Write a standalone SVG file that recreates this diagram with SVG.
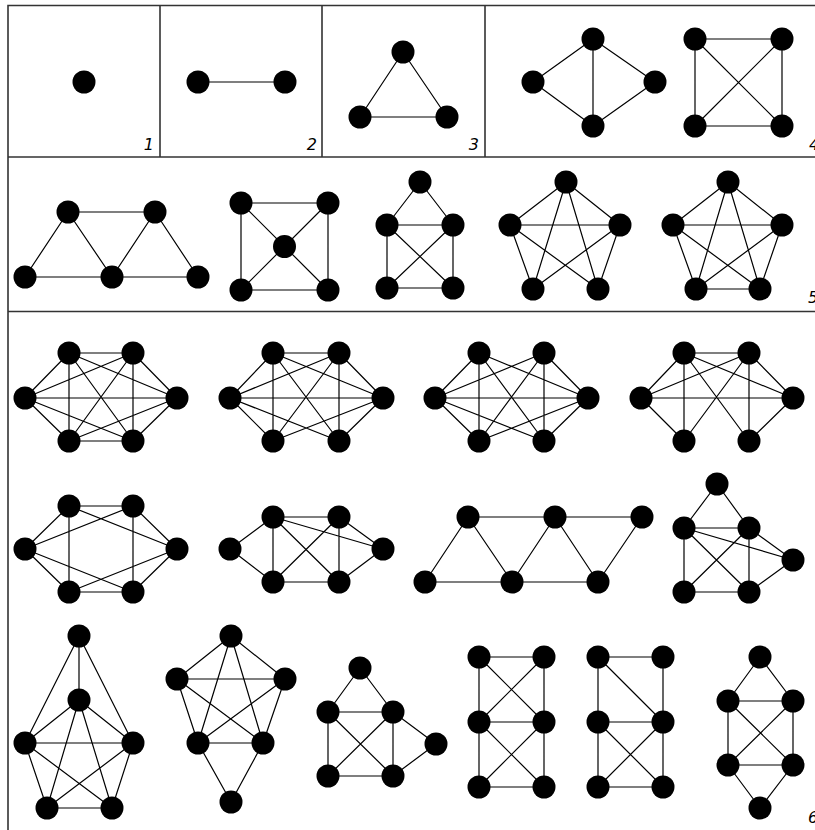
<svg xmlns="http://www.w3.org/2000/svg" width="815" height="830" viewBox="0 0 815 830">
<style>
.frame{fill:none;stroke:#333;stroke-width:1.6}
.e{fill:none;stroke:#000;stroke-width:1.2;stroke-linejoin:round}
circle{fill:#000}
text{font-family:"DejaVu Sans",sans-serif;font-style:oblique;font-size:16px;fill:#000}
</style>
<rect width="815" height="830" fill="#fff"/>
<g id="frame">
<path class="frame" d="M8 830V5.5H815M8 157H815M8 311.5H815M160 5.5V157M322 5.5V157M485 5.5V157"/>
<text x="154" y="150" text-anchor="end">1</text>
<text x="317" y="150" text-anchor="end">2</text>
<text x="479" y="150" text-anchor="end">3</text>
<text x="809" y="150">4</text>
<text x="808" y="303">5</text>
<text x="808" y="823">6</text>
</g>
<g id="connectors">
<path class="e" d="M198 82H285"/>
<path class="e" d="M403 52L360 117L447 117Z"/>
<path class="e" d="M593 39L533 82L593 126L655 82ZM593 39V126"/>
<path class="e" d="M695 39H782V126H695ZM695 39L782 126M782 39L695 126"/>
<path class="e" d="M68 212H155M25 277H198M25 277L68 212L112 277L155 212L198 277"/>
<path class="e" d="M241 203H328V290H241ZM241 203L328 290M328 203L241 290"/>
<path class="e" d="M420 182L387 225L387 288L453 288L453 225ZM387 225H453M387 225L453 288M453 225L387 288"/>
<path class="e" d="M566 182L510 225L533 289M566 182L620 225L598 289M566 182L533 289M566 182L598 289M510 225H620M510 225L598 289M620 225L533 289"/>
<path class="e" d="M728 182L673 225L696 289L760 289L782 225ZM728 182L696 289M728 182L760 289M673 225H782M673 225L760 289M782 225L696 289"/>
<path class="e" d="M69 353L133 353L177 398L133 441L69 441L25 398ZM69 353L177 398M69 353V441M69 353L133 441M133 353L25 398M133 353L69 441M133 353V441M25 398H177M25 398L133 441M177 398L69 441"/>
<path class="e" d="M273 441L230 398L273 353L339 353L383 398L339 441M273 353L383 398M273 353V441M273 353L339 441M339 353L230 398M339 353L273 441M339 353V441M230 398H383M230 398L339 441M383 398L273 441"/>
<path class="e" d="M479 353L435 398L479 441M544 353L588 398L544 441M479 353L588 398M479 353V441M479 353L544 441M544 353L435 398M544 353L479 441M544 353V441M435 398H588M435 398L544 441M588 398L479 441"/>
<path class="e" d="M684 441L641 398L684 353L749 353L793 398L749 441M684 353L793 398M684 353V441M684 353L749 441M749 353L641 398M749 353L684 441M749 353V441M641 398H793"/>
<path class="e" d="M69 506L133 506L177 549L133 592L69 592L25 549ZM69 506V592M133 506V592M25 549L133 506M25 549L133 592M177 549L69 506M177 549L69 592"/>
<path class="e" d="M273 517L339 517L383 549L339 582L273 582L230 549ZM273 517V582M339 517V582M273 517L383 549M273 517L339 582M339 517L273 582"/>
<path class="e" d="M468 517H642M425 582H598M425 582L468 517L512 582L555 517L598 582L642 517"/>
<path class="e" d="M684 528L717 484L749 528ZM684 528V592H749V528M684 528L749 592M749 528L684 592M684 528L793 560L749 528M749 592L793 560"/>
<path class="e" d="M79 636V700M79 636L25 743M79 636L133 743M79 700L25 743L47 808L112 808L133 743ZM25 743H133M79 700L47 808M79 700L112 808M25 743L112 808M133 743L47 808"/>
<path class="e" d="M231 636L177 679L198 743L263 743L285 679ZM177 679H285M231 636L198 743M231 636L263 743M177 679L263 743M285 679L198 743M198 743L231 802L263 743"/>
<path class="e" d="M328 712L360 668L393 712ZM328 712V776H393V712M328 712L393 776M393 712L328 776M393 712L436 744L393 776"/>
<path class="e" d="M479 657H544V787H479ZM479 722H544M479 657L544 722M544 657L479 722M479 722L544 787M544 722L479 787"/>
<path class="e" d="M598 657H663V787H598ZM598 722H663M598 657L663 722M598 722L663 787M663 722L598 787"/>
<path class="e" d="M728 701L760 657L793 701ZM728 701V765M793 701V765M728 765H793M728 701L793 765M793 701L728 765M728 765L760 808L793 765"/>
</g>
<g id="graph-1"><circle id="n1-1" cx="84" cy="82" r="11.5"/></g>
<g id="graph-2"><circle id="n2-1" cx="198" cy="82" r="11.5"/><circle id="n2-2" cx="285" cy="82" r="11.5"/></g>
<g id="graph-3"><circle id="n3-1" cx="403" cy="52" r="11.5"/><circle id="n3-2" cx="360" cy="117" r="11.5"/><circle id="n3-3" cx="447" cy="117" r="11.5"/></g>
<g id="graph-4a"><circle id="n4a-1" cx="593" cy="39" r="11.5"/><circle id="n4a-2" cx="533" cy="82" r="11.5"/><circle id="n4a-3" cx="655" cy="82" r="11.5"/><circle id="n4a-4" cx="593" cy="126" r="11.5"/></g>
<g id="graph-4b"><circle id="n4b-1" cx="695" cy="39" r="11.5"/><circle id="n4b-2" cx="782" cy="39" r="11.5"/><circle id="n4b-3" cx="695" cy="126" r="11.5"/><circle id="n4b-4" cx="782" cy="126" r="11.5"/></g>
<g id="graph-5a"><circle id="n5a-1" cx="68" cy="212" r="11.5"/><circle id="n5a-2" cx="155" cy="212" r="11.5"/><circle id="n5a-3" cx="25" cy="277" r="11.5"/><circle id="n5a-4" cx="112" cy="277" r="11.5"/><circle id="n5a-5" cx="198" cy="277" r="11.5"/></g>
<g id="graph-5b"><circle id="n5b-1" cx="241" cy="203" r="11.5"/><circle id="n5b-2" cx="328" cy="203" r="11.5"/><circle id="n5b-3" cx="284.5" cy="246.5" r="11.5"/><circle id="n5b-4" cx="241" cy="290" r="11.5"/><circle id="n5b-5" cx="328" cy="290" r="11.5"/></g>
<g id="graph-5c"><circle id="n5c-1" cx="420" cy="182" r="11.5"/><circle id="n5c-2" cx="387" cy="225" r="11.5"/><circle id="n5c-3" cx="453" cy="225" r="11.5"/><circle id="n5c-4" cx="387" cy="288" r="11.5"/><circle id="n5c-5" cx="453" cy="288" r="11.5"/></g>
<g id="graph-5d"><circle id="n5d-1" cx="566" cy="182" r="11.5"/><circle id="n5d-2" cx="510" cy="225" r="11.5"/><circle id="n5d-3" cx="620" cy="225" r="11.5"/><circle id="n5d-4" cx="533" cy="289" r="11.5"/><circle id="n5d-5" cx="598" cy="289" r="11.5"/></g>
<g id="graph-5e"><circle id="n5e-1" cx="728" cy="182" r="11.5"/><circle id="n5e-2" cx="673" cy="225" r="11.5"/><circle id="n5e-3" cx="782" cy="225" r="11.5"/><circle id="n5e-4" cx="696" cy="289" r="11.5"/><circle id="n5e-5" cx="760" cy="289" r="11.5"/></g>
<g id="graph-6a"><circle id="n6a-1" cx="69" cy="353" r="11.5"/><circle id="n6a-2" cx="133" cy="353" r="11.5"/><circle id="n6a-3" cx="25" cy="398" r="11.5"/><circle id="n6a-4" cx="177" cy="398" r="11.5"/><circle id="n6a-5" cx="69" cy="441" r="11.5"/><circle id="n6a-6" cx="133" cy="441" r="11.5"/></g>
<g id="graph-6b"><circle id="n6b-1" cx="273" cy="353" r="11.5"/><circle id="n6b-2" cx="339" cy="353" r="11.5"/><circle id="n6b-3" cx="230" cy="398" r="11.5"/><circle id="n6b-4" cx="383" cy="398" r="11.5"/><circle id="n6b-5" cx="273" cy="441" r="11.5"/><circle id="n6b-6" cx="339" cy="441" r="11.5"/></g>
<g id="graph-6c"><circle id="n6c-1" cx="479" cy="353" r="11.5"/><circle id="n6c-2" cx="544" cy="353" r="11.5"/><circle id="n6c-3" cx="435" cy="398" r="11.5"/><circle id="n6c-4" cx="588" cy="398" r="11.5"/><circle id="n6c-5" cx="479" cy="441" r="11.5"/><circle id="n6c-6" cx="544" cy="441" r="11.5"/></g>
<g id="graph-6d"><circle id="n6d-1" cx="684" cy="353" r="11.5"/><circle id="n6d-2" cx="749" cy="353" r="11.5"/><circle id="n6d-3" cx="641" cy="398" r="11.5"/><circle id="n6d-4" cx="793" cy="398" r="11.5"/><circle id="n6d-5" cx="684" cy="441" r="11.5"/><circle id="n6d-6" cx="749" cy="441" r="11.5"/></g>
<g id="graph-7a"><circle id="n7a-1" cx="69" cy="506" r="11.5"/><circle id="n7a-2" cx="133" cy="506" r="11.5"/><circle id="n7a-3" cx="25" cy="549" r="11.5"/><circle id="n7a-4" cx="177" cy="549" r="11.5"/><circle id="n7a-5" cx="69" cy="592" r="11.5"/><circle id="n7a-6" cx="133" cy="592" r="11.5"/></g>
<g id="graph-7b"><circle id="n7b-1" cx="273" cy="517" r="11.5"/><circle id="n7b-2" cx="339" cy="517" r="11.5"/><circle id="n7b-3" cx="230" cy="549" r="11.5"/><circle id="n7b-4" cx="383" cy="549" r="11.5"/><circle id="n7b-5" cx="273" cy="582" r="11.5"/><circle id="n7b-6" cx="339" cy="582" r="11.5"/></g>
<g id="graph-7c"><circle id="n7c-1" cx="468" cy="517" r="11.5"/><circle id="n7c-2" cx="555" cy="517" r="11.5"/><circle id="n7c-3" cx="642" cy="517" r="11.5"/><circle id="n7c-4" cx="425" cy="582" r="11.5"/><circle id="n7c-5" cx="512" cy="582" r="11.5"/><circle id="n7c-6" cx="598" cy="582" r="11.5"/></g>
<g id="graph-7d"><circle id="n7d-1" cx="717" cy="484" r="11.5"/><circle id="n7d-2" cx="684" cy="528" r="11.5"/><circle id="n7d-3" cx="749" cy="528" r="11.5"/><circle id="n7d-4" cx="793" cy="560" r="11.5"/><circle id="n7d-5" cx="684" cy="592" r="11.5"/><circle id="n7d-6" cx="749" cy="592" r="11.5"/></g>
<g id="graph-8a"><circle id="n8a-1" cx="79" cy="636" r="11.5"/><circle id="n8a-2" cx="79" cy="700" r="11.5"/><circle id="n8a-3" cx="25" cy="743" r="11.5"/><circle id="n8a-4" cx="133" cy="743" r="11.5"/><circle id="n8a-5" cx="47" cy="808" r="11.5"/><circle id="n8a-6" cx="112" cy="808" r="11.5"/></g>
<g id="graph-8b"><circle id="n8b-1" cx="231" cy="636" r="11.5"/><circle id="n8b-2" cx="177" cy="679" r="11.5"/><circle id="n8b-3" cx="285" cy="679" r="11.5"/><circle id="n8b-4" cx="198" cy="743" r="11.5"/><circle id="n8b-5" cx="263" cy="743" r="11.5"/><circle id="n8b-6" cx="231" cy="802" r="11.5"/></g>
<g id="graph-8c"><circle id="n8c-1" cx="360" cy="668" r="11.5"/><circle id="n8c-2" cx="328" cy="712" r="11.5"/><circle id="n8c-3" cx="393" cy="712" r="11.5"/><circle id="n8c-4" cx="436" cy="744" r="11.5"/><circle id="n8c-5" cx="328" cy="776" r="11.5"/><circle id="n8c-6" cx="393" cy="776" r="11.5"/></g>
<g id="graph-8d"><circle id="n8d-1" cx="479" cy="657" r="11.5"/><circle id="n8d-2" cx="544" cy="657" r="11.5"/><circle id="n8d-3" cx="479" cy="722" r="11.5"/><circle id="n8d-4" cx="544" cy="722" r="11.5"/><circle id="n8d-5" cx="479" cy="787" r="11.5"/><circle id="n8d-6" cx="544" cy="787" r="11.5"/></g>
<g id="graph-8e"><circle id="n8e-1" cx="598" cy="657" r="11.5"/><circle id="n8e-2" cx="663" cy="657" r="11.5"/><circle id="n8e-3" cx="598" cy="722" r="11.5"/><circle id="n8e-4" cx="663" cy="722" r="11.5"/><circle id="n8e-5" cx="598" cy="787" r="11.5"/><circle id="n8e-6" cx="663" cy="787" r="11.5"/></g>
<g id="graph-8f"><circle id="n8f-1" cx="760" cy="657" r="11.5"/><circle id="n8f-2" cx="728" cy="701" r="11.5"/><circle id="n8f-3" cx="793" cy="701" r="11.5"/><circle id="n8f-4" cx="728" cy="765" r="11.5"/><circle id="n8f-5" cx="793" cy="765" r="11.5"/><circle id="n8f-6" cx="760" cy="808" r="11.5"/></g>
</svg>
